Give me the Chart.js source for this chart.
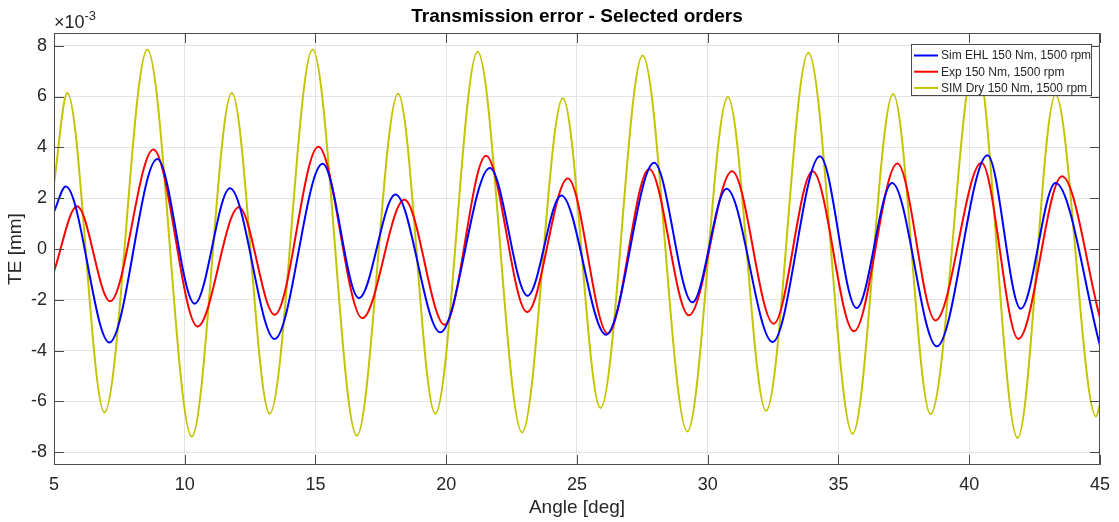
<!DOCTYPE html>
<html>
<head>
<meta charset="utf-8">
<script src="https://cdn.jsdelivr.net/npm/chart.js@4/dist/chart.umd.min.js"></script>
<style>
  html, body { margin: 0; padding: 0; background: #fff; }
  canvas { display: block; }
</style>
</head>
<body>
<canvas id="te_chart" width="1119" height="522"></canvas>
<script>
"use strict";

// Werte (Extrema), Einheit 1e-3 mm
const series_names = ["Sim EHL 150 Nm, 1500 rpm", "Exp 150 Nm, 1500 rpm", "SIM Dry 150 Nm, 1500 rpm"];

const ehl_x = [5, 5.45, 7.12, 8.95, 10.38, 11.73, 13.44, 15.27, 16.66, 18.06, 19.77, 21.67, 23.11, 24.40, 26.11, 27.95, 29.41, 30.72, 32.48, 34.29, 35.69, 37.05, 38.76, 40.70, 41.97, 43.30, 45];
const ehl_y = [1.46, 2.46, -3.68, 3.54, -2.15, 2.39, -3.54, 3.35, -1.93, 2.14, -3.28, 3.19, -1.84, 2.11, -3.37, 3.39, -2.10, 2.37, -3.66, 3.65, -2.32, 2.60, -3.83, 3.69, -2.35, 2.60, -3.80];

const exp_x = [5, 5.88, 7.15, 8.80, 10.49, 12.07, 13.44, 15.11, 16.79, 18.40, 19.94, 21.52, 23.09, 24.65, 26.18, 27.76, 29.28, 30.93, 32.52, 34.01, 35.59, 37.25, 38.71, 40.47, 41.88, 43.55, 45];
const exp_y = [-0.88, 1.68, -2.06, 3.92, -3.05, 1.64, -2.59, 4.02, -2.72, 1.94, -2.98, 3.67, -2.48, 2.77, -3.33, 3.15, -2.61, 3.06, -2.94, 3.06, -3.24, 3.36, -2.81, 3.39, -3.54, 2.86, -2.72];

const dry_x = [5, 5.51, 6.93, 8.57, 10.27, 11.80, 13.25, 14.89, 16.58, 18.16, 19.58, 21.20, 22.90, 24.46, 25.90, 27.51, 29.22, 30.77, 32.23, 33.85, 35.54, 37.09, 38.52, 40.25, 41.85, 43.30, 44.85, 45];
const dry_y = [2.57, 6.14, -6.43, 7.85, -7.38, 6.14, -6.48, 7.85, -7.35, 6.11, -6.48, 7.76, -7.22, 5.93, -6.26, 7.61, -7.18, 5.98, -6.37, 7.72, -7.27, 6.10, -6.50, 7.60, -7.44, 6.07, -6.59, -6.10];

const x_ticks = [5, 10, 15, 20, 25, 30, 35, 40, 45];
const x_tick_labels = ["5", "10", "15", "20", "25", "30", "35", "40", "45"];
const y_ticks = [-8, -6, -4, -2, 0, 2, 4, 6, 8];
const y_tick_labels = ["-8", "-6", "-4", "-2", "0", "2", "4", "6", "8"];

const FONT = "'Liberation Sans', Arial, Helvetica, sans-serif";
const TEXT_COLOR = "#262626";
const AXIS_COLOR = "#4a4a4a";

function to_points(xs, ys) {
  return xs.map((x, i) => ({ x: x, y: ys[i] }));
}

function make_dataset(label, xs, ys, color) {
  return {
    label: label,
    data: to_points(xs, ys),
    borderColor: color,
    backgroundColor: color,
    borderWidth: 2,
    pointRadius: 0,
    cubicInterpolationMode: "monotone",
    fill: false,
  };
}

// Rahmen, Ticks nach innen, Titel, Exponent und Legende
const matlab_frame = {
  id: "matlab_frame",
  afterDraw(chart) {
    const ctx = chart.ctx;
    const area = chart.chartArea;
    const sx = chart.scales.x;
    const sy = chart.scales.y;
    const tick_len = 10;

    ctx.save();
    ctx.strokeStyle = AXIS_COLOR;
    ctx.lineWidth = 1;
    ctx.beginPath();
    ctx.rect(area.left + 0.5, area.top + 0.5, area.right - area.left - 1, area.bottom - area.top - 1);
    ctx.stroke();

    ctx.beginPath();
    x_ticks.forEach((v) => {
      const px = Math.round(sx.getPixelForValue(v)) + 0.5;
      ctx.moveTo(px, area.bottom);
      ctx.lineTo(px, area.bottom - tick_len);
      ctx.moveTo(px, area.top);
      ctx.lineTo(px, area.top + tick_len);
    });
    y_ticks.forEach((v) => {
      const py = Math.round(sy.getPixelForValue(v)) + 0.5;
      ctx.moveTo(area.left, py);
      ctx.lineTo(area.left + tick_len, py);
      ctx.moveTo(area.right, py);
      ctx.lineTo(area.right - tick_len, py);
    });
    ctx.stroke();

    // Titel
    ctx.fillStyle = "#000";
    ctx.font = "bold 19px " + FONT;
    ctx.textAlign = "center";
    ctx.textBaseline = "middle";
    ctx.fillText("Transmission error - Selected orders", (area.left + area.right) / 2, 17);

    // Achsentitel
    ctx.fillStyle = TEXT_COLOR;
    ctx.font = "19px " + FONT;
    ctx.fillText("Angle [deg]", (area.left + area.right) / 2, 508);
    ctx.save();
    ctx.translate(16, (area.top + area.bottom) / 2);
    ctx.rotate(-Math.PI / 2);
    ctx.fillText("TE [mm]", 0, 0);
    ctx.restore();

    // Exponent
    ctx.textAlign = "left";
    ctx.textBaseline = "alphabetic";
    ctx.font = "18px " + FONT;
    ctx.fillText("\u00d710", 54, 28);
    const w = ctx.measureText("\u00d710").width;
    ctx.font = "13px " + FONT;
    ctx.fillText("-3", 54 + w, 20);

    // Legende
    const box = { left: 911, top: 44, right: 1092, bottom: 96 };
    ctx.fillStyle = "#fff";
    ctx.fillRect(box.left, box.top, box.right - box.left, box.bottom - box.top);
    ctx.strokeStyle = AXIS_COLOR;
    ctx.strokeRect(box.left + 0.5, box.top + 0.5, box.right - box.left - 1, box.bottom - box.top - 1);
    ctx.font = "12px " + FONT;
    ctx.textBaseline = "middle";
    chart.data.datasets.forEach((ds, i) => {
      const row_y = 55.5 + i * 16.2;
      ctx.strokeStyle = ds.borderColor;
      ctx.lineWidth = 2;
      ctx.beginPath();
      ctx.moveTo(914, row_y);
      ctx.lineTo(938, row_y);
      ctx.stroke();
      ctx.fillStyle = TEXT_COLOR;
      ctx.fillText(ds.label, 941, row_y + 0.5);
    });
    ctx.restore();
  },
};

const config = {
  type: "line",
  data: {
    datasets: [
      make_dataset(series_names[0], ehl_x, ehl_y, "#0000ff"),
      make_dataset(series_names[1], exp_x, exp_y, "#ff0000"),
      make_dataset(series_names[2], dry_x, dry_y, "#c4c400"),
    ],
  },
  options: {
    responsive: false,
    animation: false,
    devicePixelRatio: 1,
    layout: {
      padding: { top: 33, right: 14.5, bottom: 0, left: 0 },
    },
    plugins: {
      legend: { display: false },
      tooltip: { enabled: false },
      title: { display: false },
    },
    scales: {
      x: {
        type: "linear",
        min: 5,
        max: 45,
        afterBuildTicks: (scale) => {
          scale.ticks = x_ticks.map((v) => ({ value: v }));
        },
        afterFit: (scale) => {
          scale.height = 57;
        },
        ticks: {
          autoSkip: false,
          maxRotation: 0,
          padding: 9,
          color: TEXT_COLOR,
          font: { family: FONT, size: 18 },
          callback: (value, index) => x_tick_labels[index],
        },
        grid: {
          color: "#e3e3e3",
          drawTicks: false,
        },
        border: { display: false },
      },
      y: {
        type: "linear",
        min: -8.5,
        max: 8.5,
        afterBuildTicks: (scale) => {
          scale.ticks = y_ticks.map((v) => ({ value: v }));
        },
        afterFit: (scale) => {
          scale.width = 54;
        },
        ticks: {
          autoSkip: false,
          padding: 7,
          color: TEXT_COLOR,
          font: { family: FONT, size: 18 },
          callback: (value, index) => y_tick_labels[index],
        },
        grid: {
          color: "#e3e3e3",
          drawTicks: false,
        },
        border: { display: false },
      },
    },
  },
  plugins: [matlab_frame],
};

new Chart(document.getElementById("te_chart"), config);
</script>
</body>
</html>
